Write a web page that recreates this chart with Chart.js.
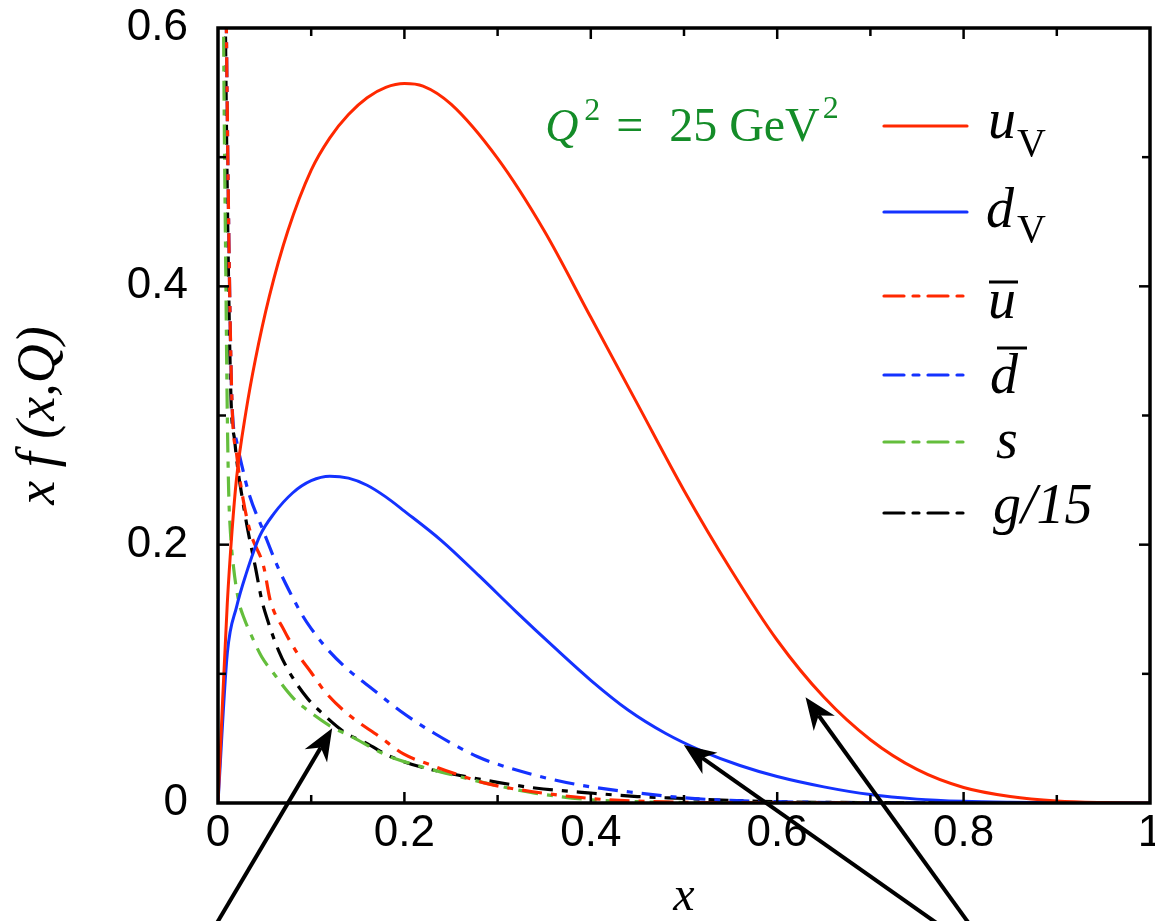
<!DOCTYPE html>
<html>
<head>
<meta charset="utf-8">
<script src="https://cdn.jsdelivr.net/npm/chart.js@4.4.0/dist/chart.umd.min.js"></script>
<style>
  html, body { margin: 0; padding: 0; background: #fff; }
</style>
</head>
<body>
<canvas id="chart" width="1155" height="921"></canvas>
<script>
const xTickLabels = ['0', '0.2', '0.4', '0.6', '0.8', '1'];
const yTickLabels = ['0', '0.2', '0.4', '0.6'];

// valence up
const uvX = [0, 0.005, 0.01, 0.015, 0.02, 0.03, 0.04, 0.055, 0.075, 0.1, 0.12, 0.14, 0.16, 0.18, 0.2, 0.22, 0.25, 0.3, 0.35, 0.4, 0.45, 0.5, 0.55, 0.6, 0.65, 0.7, 0.75, 0.8, 0.85, 0.9, 0.95, 1.0];
const uvY = [0, 0.08, 0.155, 0.21, 0.252, 0.303, 0.343, 0.392, 0.443, 0.49, 0.515, 0.533, 0.546, 0.554, 0.557, 0.555, 0.541, 0.499, 0.443, 0.376, 0.309, 0.242, 0.181, 0.126, 0.082, 0.049, 0.026, 0.012, 0.005, 0.0015, 0.0003, 0];

// valence down
const dvX = [0, 0.01, 0.02, 0.03, 0.045, 0.06, 0.08, 0.1, 0.12, 0.14, 0.16, 0.18, 0.2, 0.24, 0.28, 0.32, 0.36, 0.4, 0.44, 0.48, 0.52, 0.56, 0.6, 0.65, 0.7, 0.75, 0.8, 0.85, 0.9, 1.0];
const dvY = [0, 0.116, 0.152, 0.177, 0.207, 0.224, 0.24, 0.2495, 0.253, 0.2515, 0.246, 0.237, 0.226, 0.203, 0.176, 0.148, 0.121, 0.095, 0.072, 0.054, 0.04, 0.029, 0.0205, 0.0125, 0.0065, 0.003, 0.0013, 0.0005, 0.0001, 0];

// anti-up
const ubarX = [0.006, 0.009, 0.012, 0.015, 0.02, 0.027, 0.035, 0.049, 0.056, 0.07, 0.085, 0.1, 0.115, 0.139, 0.174, 0.199, 0.23, 0.253, 0.289, 0.34, 0.4, 0.45, 0.5, 0.6, 0.7];
const ubarY = [0.85, 0.6, 0.42, 0.31, 0.27, 0.235, 0.209, 0.183, 0.157, 0.135, 0.116, 0.101, 0.086, 0.069, 0.051, 0.038, 0.029, 0.023, 0.015, 0.0085, 0.0035, 0.0015, 0.0005, 0.0001, 0];

// anti-down
const dbarX = [0.006, 0.009, 0.012, 0.015, 0.02, 0.026, 0.033, 0.049, 0.064, 0.078, 0.09, 0.1, 0.12, 0.14, 0.167, 0.196, 0.232, 0.278, 0.3, 0.36, 0.4, 0.442, 0.5, 0.55, 0.6, 0.7, 0.8];
const dbarY = [0.85, 0.6, 0.42, 0.31, 0.28, 0.26, 0.24, 0.21, 0.183, 0.162, 0.146, 0.135, 0.117, 0.103, 0.0875, 0.071, 0.054, 0.036, 0.030, 0.018, 0.0125, 0.0085, 0.004, 0.002, 0.001, 0.0002, 0];

// strange
const sX = [0.004, 0.006, 0.0085, 0.01, 0.0115, 0.0134, 0.0166, 0.022, 0.028, 0.035, 0.047, 0.058, 0.081, 0.094, 0.124, 0.139, 0.181, 0.214, 0.267, 0.296, 0.34, 0.4, 0.45, 0.5, 0.6, 0.7];
const sY = [0.9, 0.6, 0.4, 0.3, 0.24, 0.209, 0.183, 0.157, 0.143, 0.131, 0.113, 0.102, 0.081, 0.073, 0.058, 0.053, 0.037, 0.029, 0.019, 0.014, 0.0077, 0.0025, 0.001, 0.0004, 0.0001, 0];

// gluon / 15
const gX = [0.005, 0.008, 0.011, 0.014, 0.018, 0.021, 0.027, 0.031, 0.04, 0.047, 0.053, 0.065, 0.076, 0.096, 0.11, 0.135, 0.16, 0.185, 0.217, 0.257, 0.3, 0.34, 0.4, 0.45, 0.5, 0.55, 0.6, 0.7, 0.8];
const gY = [0.9, 0.6, 0.42, 0.312, 0.28, 0.26, 0.232, 0.215, 0.183, 0.157, 0.142, 0.118, 0.102, 0.081, 0.0707, 0.0552, 0.046, 0.036, 0.028, 0.0217, 0.016, 0.0116, 0.0077, 0.005, 0.0035, 0.002, 0.001, 0.0003, 0];

// arrows in data units (tail -> tip)
const arrowTails = [[-0.007, -0.1], [0.785, -0.1], [0.8125, -0.1]];
const arrowTips = [[0.1225, 0.0578], [0.4998, 0.0449], [0.6304, 0.0818]];

const RED = 'rgb(255,40,0)';
const BLUE = 'rgb(20,50,255)';
const GREEN = 'rgb(100,190,60)';
const DASH = [20, 9, 6, 9];
const SERIF = '"Liberation Serif", "DejaVu Serif", serif';
const SANS = '"Liberation Sans", Arial, sans-serif';

function pts(xs, ys) {
    return xs.map((x, i) => ({ x: x, y: ys[i] }));
}

function series(key, xs, ys, color, dashed) {
    return {
        label: key,
        data: pts(xs, ys),
        borderColor: color,
        borderWidth: dashed ? 3.2 : 3,
        borderDash: dashed ? DASH : [],
        pointRadius: 0,
        fill: false,
        cubicInterpolationMode: 'monotone'
    };
}

const datasets = [
    series('uV', uvX, uvY, RED, false),
    series('dV', dvX, dvY, BLUE, false),
    series('ubar', ubarX, ubarY, RED, true),
    series('dbar', dbarX, dbarY, BLUE, true),
    series('s', sX, sY, GREEN, true),
    series('g15', gX, gY, '#000', true)
];

function line(ctx, x1, y1, x2, y2) {
    ctx.beginPath();
    ctx.moveTo(x1, y1);
    ctx.lineTo(x2, y2);
    ctx.stroke();
}

// frame with inward ticks on all four sides
const framePlugin = {
    id: 'frame',
    afterDatasetsDraw(chart) {
        const { ctx, chartArea: a, scales: { x, y } } = chart;
        ctx.save();
        ctx.strokeStyle = '#000';
        ctx.lineWidth = 2.5;
        for (let i = 1; i < 10; i++) {
            const px = x.getPixelForValue(i / 10);
            const len = i % 2 === 0 ? 11 : 8;
            line(ctx, px, a.bottom, px, a.bottom - len);
            line(ctx, px, a.top, px, a.top + len);
        }
        for (let i = 1; i < 6; i++) {
            const py = y.getPixelForValue(i / 10);
            const len = i % 2 === 0 ? 11 : 8;
            line(ctx, a.left, py, a.left + len, py);
            line(ctx, a.right, py, a.right - len, py);
        }
        ctx.lineWidth = 3.5;
        ctx.strokeRect(a.left, a.top, a.right - a.left, a.bottom - a.top);
        ctx.restore();
    }
};

// arrows pointing at the curves
const arrowPlugin = {
    id: 'arrows',
    afterDraw(chart) {
        const { ctx, scales: { x, y } } = chart;
        ctx.save();
        ctx.strokeStyle = '#000';
        ctx.fillStyle = '#000';
        ctx.lineWidth = 4;
        arrowTails.forEach((t, i) => {
            const x1 = x.getPixelForValue(t[0]), y1 = y.getPixelForValue(t[1]);
            const x2 = x.getPixelForValue(arrowTips[i][0]), y2 = y.getPixelForValue(arrowTips[i][1]);
            const ang = Math.atan2(y2 - y1, x2 - x1);
            const L = 32, W = 13;
            const bx = x2 - L * Math.cos(ang), by = y2 - L * Math.sin(ang);
            const nx = x2 - L * 0.7 * Math.cos(ang), ny = y2 - L * 0.7 * Math.sin(ang);
            line(ctx, x1, y1, nx, ny);
            ctx.beginPath();
            ctx.moveTo(x2, y2);
            ctx.lineTo(bx + W * Math.sin(ang), by - W * Math.cos(ang));
            ctx.lineTo(nx, ny);
            ctx.lineTo(bx - W * Math.sin(ang), by + W * Math.cos(ang));
            ctx.closePath();
            ctx.fill();
        });
        ctx.restore();
    }
};

// legend + Q^2 label
const legendPlugin = {
    id: 'customLegend',
    afterDraw(chart) {
        const { ctx, chartArea: a, scales: { x, y } } = chart;
        ctx.save();

        // Q^2 = 25 GeV^2
        const qx = x.getPixelForValue(0.351);
        const qy = y.getPixelForValue(0.5125);
        ctx.fillStyle = 'rgb(20,140,40)';
        ctx.textBaseline = 'alphabetic';
        ctx.font = 'italic 46px ' + SERIF;
        ctx.fillText('Q', qx, qy);
        ctx.font = '32px ' + SERIF;
        ctx.fillText('2', qx + 39, qy - 21);
        ctx.font = '48px ' + SERIF;
        ctx.fillText('=', qx + 71, qy);
        ctx.fillText('25', qx + 124, qy);
        ctx.fillText('GeV', qx + 184, qy);
        const gw = ctx.measureText('GeV').width;
        ctx.font = '32px ' + SERIF;
        ctx.fillText('2', qx + 184 + gw + 3, qy - 23);

        // legend rows
        const lineY = [98, 184, 268, 347, 414, 485];
        const textY = [110, 199, 290, 365, 430, 495];
        const x0 = a.right - 266, x1 = a.right - 183, tx = a.right - 162;
        chart.data.datasets.forEach((ds, i) => {
            ctx.strokeStyle = ds.borderColor;
            ctx.lineWidth = 3.2;
            ctx.lineCap = 'round';
            ctx.setLineDash(ds.borderDash);
            line(ctx, x0, a.top + lineY[i], x1, a.top + lineY[i]);
        });
        ctx.setLineDash([]);
        ctx.lineCap = 'butt';
        ctx.fillStyle = '#000';
        ctx.strokeStyle = '#000';
        const big = 'italic 56px ' + SERIF;
        const sub = '40px ' + SERIF;

        const ty = i => a.top + textY[i];
        // u_V
        ctx.font = big;
        ctx.fillText('u', tx, ty(0));
        let w = ctx.measureText('u').width;
        ctx.font = sub;
        ctx.fillText('V', tx + w + 1, ty(0) + 18);
        // d_V
        ctx.font = big;
        ctx.fillText('d', tx - 2, ty(1));
        w = ctx.measureText('d').width;
        ctx.font = sub;
        ctx.fillText('V', tx + w + 1, ty(1) + 15);
        // ubar
        ctx.font = big;
        ctx.fillText('u', tx, ty(2));
        ctx.lineWidth = 3;
        line(ctx, tx + 1, ty(2) - 36, tx + 30, ty(2) - 36);
        // dbar
        ctx.fillText('d', tx + 2, ty(3));
        line(ctx, tx + 9, ty(3) - 45, tx + 39, ty(3) - 45);
        // s
        ctx.fillText('s', tx + 8, ty(4));
        // g/15
        ctx.fillText('g/15', tx + 5, ty(5));
        ctx.restore();
    }
};

new Chart(document.getElementById('chart'), {
    type: 'line',
    data: { datasets: datasets },
    options: {
        responsive: false,
        animation: false,
        devicePixelRatio: 1,
        layout: { padding: { top: 28, right: 5, left: 0, bottom: 0 } },
        plugins: {
            legend: { display: false },
            tooltip: { enabled: false }
        },
        scales: {
            x: {
                type: 'linear',
                min: 0,
                max: 1,
                grid: { display: false, drawTicks: false },
                border: { display: false },
                ticks: {
                    stepSize: 0.2,
                    maxRotation: 0,
                    autoSkip: false,
                    padding: 4,
                    color: '#000',
                    font: { family: SANS, size: 44 },
                    callback: (v, i) => xTickLabels[i]
                },
                title: {
                    display: true,
                    text: 'x',
                    color: '#000',
                    padding: { top: 0, bottom: -5 },
                    font: { family: SERIF, size: 48, style: 'italic' }
                },
                afterFit: s => { s.height = 118; s.paddingLeft = 0; s.paddingRight = 0; }
            },
            y: {
                min: 0,
                max: 0.6,
                grid: { display: false, drawTicks: false },
                border: { display: false },
                ticks: {
                    stepSize: 0.2,
                    padding: 30,
                    color: '#000',
                    font: { family: SANS, size: 44 },
                    callback: (v, i) => yTickLabels[i]
                },
                title: {
                    display: true,
                    text: 'x f (x,Q)',
                    color: '#000',
                    padding: { top: 7, bottom: 0 },
                    font: { family: SERIF, size: 54, style: 'italic' }
                },
                afterFit: s => { s.width = 218; s.paddingTop = 0; s.paddingBottom = 0; }
            }
        }
    },
    plugins: [framePlugin, arrowPlugin, legendPlugin]
});
</script>
</body>
</html>
